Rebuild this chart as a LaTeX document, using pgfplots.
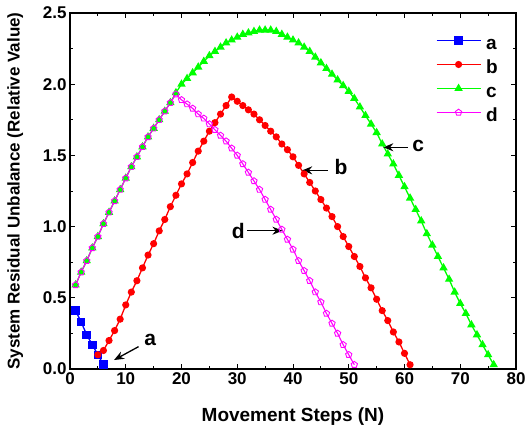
\documentclass[border=0pt]{standalone}
\usepackage{fontspec}
\setmainfont{Liberation Sans}
\usepackage{pgfplots}
\usepackage{pgfplotstable}
\pgfplotsset{compat=1.18}
\usetikzlibrary{arrows.meta}

\pgfplotstableread{
x y
1 0.41
2 0.33
3 0.24
4 0.17
5 0.10
6 0.03
}\seriesA

\pgfplotstableread{
x y
5 0.10
6 0.13
7 0.20
8 0.27
9 0.35
10 0.45
11 0.54
12 0.62
13 0.71
14 0.80
15 0.88
16 0.97
17 1.05
18 1.14
19 1.22
20 1.30
21 1.37
22 1.45
23 1.53
24 1.60
25 1.67
26 1.73
27 1.79
28 1.85
29 1.91
30 1.88
31 1.85
32 1.82
33 1.79
34 1.75
35 1.71
36 1.67
37 1.63
38 1.58
39 1.54
40 1.49
41 1.43
42 1.37
43 1.31
44 1.25
45 1.19
46 1.13
47 1.07
48 1.00
49 0.93
50 0.86
51 0.79
52 0.72
53 0.64
54 0.57
55 0.49
56 0.41
57 0.34
58 0.26
59 0.19
60 0.11
61 0.03
}\seriesB

\pgfplotstableread{
x y
1 0.59
2 0.68
3 0.76
4 0.85
5 0.93
6 1.02
7 1.10
8 1.18
9 1.26
10 1.34
11 1.42
12 1.49
13 1.56
14 1.63
15 1.69
16 1.75
17 1.81
18 1.87
19 1.94
20 2.00
21 2.04
22 2.08
23 2.12
24 2.16
25 2.20
26 2.23
27 2.26
28 2.29
29 2.31
30 2.33
31 2.35
32 2.36
33 2.37
34 2.38
35 2.38
36 2.38
37 2.37
38 2.35
39 2.33
40 2.31
41 2.29
42 2.26
43 2.23
44 2.19
45 2.15
46 2.11
47 2.07
48 2.03
49 1.99
50 1.95
51 1.90
52 1.84
53 1.78
54 1.72
55 1.66
56 1.58
57 1.51
58 1.44
59 1.36
60 1.28
61 1.20
62 1.12
63 1.04
64 0.95
65 0.87
66 0.79
67 0.71
68 0.63
69 0.54
70 0.46
71 0.39
72 0.31
73 0.24
74 0.17
75 0.10
76 0.03
}\seriesC

\pgfplotstableread{
x y
1 0.59
2 0.68
3 0.76
4 0.85
5 0.93
6 1.02
7 1.10
8 1.18
9 1.26
10 1.34
11 1.42
12 1.49
13 1.56
14 1.63
15 1.69
16 1.75
17 1.81
18 1.87
19 1.93
20 1.89
21 1.86
22 1.83
23 1.79
24 1.76
25 1.72
26 1.68
27 1.64
28 1.60
29 1.55
30 1.50
31 1.44
32 1.38
33 1.32
34 1.26
35 1.19
36 1.12
37 1.05
38 0.98
39 0.91
40 0.84
41 0.76
42 0.69
43 0.62
44 0.54
45 0.47
46 0.39
47 0.32
48 0.25
49 0.17
50 0.10
51 0.03
}\seriesD

\definecolor{cA}{RGB}{0,0,255}
\definecolor{cB}{RGB}{255,0,0}
\definecolor{cC}{RGB}{0,255,0}
\definecolor{cD}{RGB}{255,0,255}

\begin{document}
\begin{tikzpicture}
\begin{axis}[name=ax,
  scale only axis, width=446pt, height=356pt,
  xmin=0, xmax=80, ymin=0, ymax=2.5,
  xtick={0,10,20,30,40,50,60,70,80},
  ytick={0,0.5,1,1.5,2,2.5},
  minor x tick num=1, minor y tick num=1,
  tick align=inside,
  major tick length=5pt, minor tick length=3pt,
  axis line style={line width=1.1pt},
  every tick/.append style={black, line width=0.8pt},
  tick label style={font=\bfseries\fontsize{17}{17}\selectfont},
  /pgf/number format/assume math mode=true,
  yticklabel style={/pgf/number format/fixed,
    /pgf/number format/fixed zerofill,
    /pgf/number format/precision=1},
  xlabel={Movement Steps (N)},
  ylabel={System Residual Unbalance (Relative Value)},
  xlabel style={font=\bfseries\fontsize{19}{19}\selectfont,
    at={(rel axis cs:0.5,-0.133)}, anchor=center},
  ylabel style={font=\bfseries\fontsize{17}{17}\selectfont,
    at={(rel axis cs:-0.123,0.5)}, anchor=center},
  legend style={draw=none, fill=none, inner sep=0pt,
    at={(rel axis cs:0.820,0.936)}, anchor=north west,
    font=\bfseries\fontsize{19}{19}\selectfont,
    row sep=5pt,
    nodes={inner sep=1pt, text height=13pt, text depth=4pt}},
  legend cell align=left,
  /tikz/every odd column/.append style={column sep=4pt},
  legend image code/.code={\draw[mark repeat=2,mark phase=2]
    plot coordinates {(0pt,5pt) (22pt,5pt) (44pt,5pt)};},
]
\addplot[cA, line width=1.3pt, mark=square*, mark size=3.6pt]
  table[x=x,y=y] {\seriesA};
\addplot[cB, line width=1.3pt, mark=*, mark size=2.9pt]
  table[x=x,y=y] {\seriesB};
\addplot[cC, line width=1.3pt, mark=triangle*, mark size=3.6pt]
  table[x=x,y=y] {\seriesC};
\addplot[cD, line width=1.1pt, mark=pentagon, mark size=3.3pt,
  mark options={line width=0.9pt}]
  table[x=x,y=y] {\seriesD};
\legend{a,b,c,d}

\draw[-{Stealth[length=10pt,width=8pt]}, line width=1.3pt]
  (axis cs:12.3,0.157) -- (axis cs:7.9,0.063);
\node[font=\bfseries\fontsize{21}{21}\selectfont] at (axis cs:14.4,0.204) {a};
\draw[-{Stealth[length=10pt,width=8pt]}, line width=1.3pt]
  (axis cs:46.2,1.395) -- (axis cs:41.65,1.395);
\node[font=\bfseries\fontsize{21}{21}\selectfont] at (axis cs:48.6,1.416) {b};
\draw[-{Stealth[length=10pt,width=8pt]}, line width=1.3pt]
  (axis cs:60.6,1.557) -- (axis cs:56.2,1.557);
\node[font=\bfseries\fontsize{21}{21}\selectfont] at (axis cs:62.46,1.567) {c};
\draw[-{Stealth[length=10pt,width=8pt]}, line width=1.3pt]
  (axis cs:31.77,0.971) -- (axis cs:38.1,0.971);
\node[font=\bfseries\fontsize{21}{21}\selectfont] at (axis cs:30.2,0.969) {d};
\end{axis}
\pgfresetboundingbox
\path[use as bounding box] ([shift={(-70pt,-58pt)}]ax.south west)
  rectangle ([shift={(10pt,13pt)}]ax.north east);
\end{tikzpicture}
\end{document}
